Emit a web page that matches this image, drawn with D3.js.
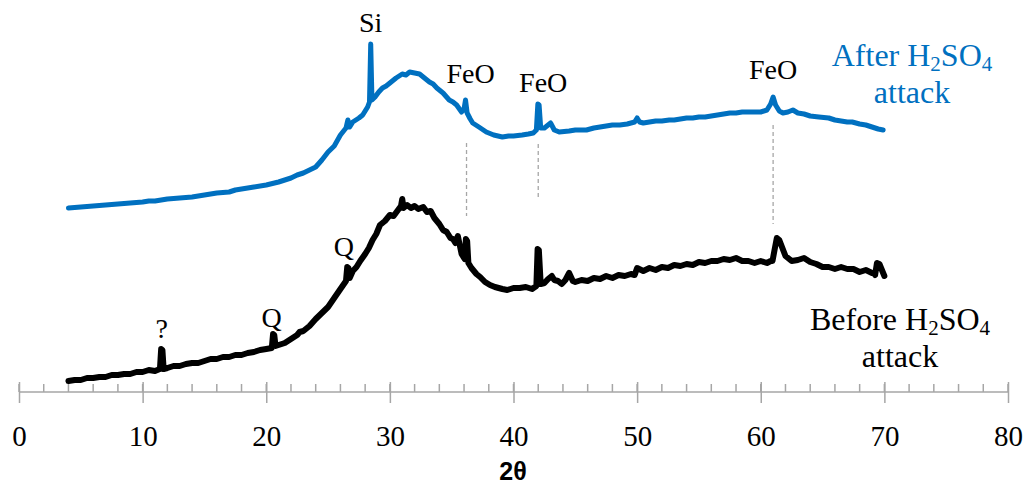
<!DOCTYPE html>
<html><head><meta charset="utf-8">
<script src="https://cdn.jsdelivr.net/npm/d3@7"></script>
<style>body{margin:0;background:#fff}</style>
</head><body>
<svg id="c" width="1027" height="486"></svg>
<script>
// ---- data (2θ in degrees, intensity in arbitrary units) ----
const beforeTheta = [4.0,4.5,5.0,5.5,6.0,6.5,7.0,7.5,8.0,8.5,9.0,9.5,10.0,10.5,11.0,11.4,11.5,11.6,11.7,12.0,12.5,13.0,13.5,14.0,14.5,15.0,15.5,16.0,16.5,17.0,17.5,18.0,18.5,19.0,19.5,20.0,20.45,20.55,20.65,20.75,21.0,21.5,22.0,22.5,22.7,23.0,23.5,24.0,24.5,25.0,25.5,26.0,26.45,26.55,26.65,26.75,27.0,27.3,27.6,28.0,28.3,28.6,28.9,29.2,29.6,30.0,30.3,30.6,30.9,31.0,31.1,31.4,31.7,32.0,32.3,32.7,33.0,33.3,33.6,34.0,34.3,34.6,34.9,35.1,35.3,35.5,35.8,36.05,36.15,36.25,36.35,36.6,37.0,37.3,37.7,38.1,38.5,38.8,39.1,39.5,40.0,40.5,41.0,41.5,41.85,41.95,42.05,42.2,42.5,42.8,43.1,43.3,43.6,43.9,44.2,44.5,44.8,45.0,45.5,46.0,46.5,47.0,47.5,48.0,48.5,49.0,49.5,49.8,50.0,50.5,51.0,51.5,52.0,52.5,53.0,53.5,54.0,54.5,55.0,55.5,56.0,56.5,57.0,57.5,58.0,58.5,59.0,59.5,60.0,60.5,60.8,60.95,61.1,61.3,61.5,62.0,62.5,63.0,63.5,64.0,64.5,65.0,65.5,66.0,66.5,67.0,67.5,68.0,68.5,69.0,69.15,69.25,69.4,69.6,70.0];
const beforeCounts = [11,12,12,14,14,15,15,17,17,18,18,20,20,22,21,23,43,42,23,24,26,26,28,29,29,31,33,33,35,35,37,37,39,40,42,43,44,58,57,46,47,49,53,57,60,61,66,73,79,85,94,103,111,125,124,114,121,125,131,138,144,152,158,167,171,177,176,181,186,193,184,187,184,186,183,185,180,181,174,168,162,160,154,153,149,156,138,133,153,151,129,124,118,115,110,107,105,104,103,102,104,104,105,103,106,143,142,108,109,113,116,112,111,108,112,119,111,110,112,111,114,113,116,114,117,116,118,117,124,121,124,122,125,124,127,126,128,127,130,129,131,131,133,132,134,131,131,129,131,129,131,131,141,154,152,136,131,132,134,130,128,125,125,123,125,123,123,120,122,119,119,117,129,128,116,115,112];
const afterTheta = [4.0,5.0,6.0,7.0,8.0,9.0,10.0,10.5,11.0,12.0,13.0,14.0,15.0,16.0,17.0,17.5,18.0,19.0,20.0,21.0,21.5,22.0,22.5,23.0,23.5,24.0,24.5,25.0,25.5,26.0,26.45,26.6,26.75,27.0,27.5,27.8,28.2,28.35,28.45,28.55,28.8,29.1,29.4,29.7,30.0,30.5,31.0,31.3,31.6,32.0,32.4,32.8,33.2,33.5,33.8,34.3,34.8,35.1,35.4,35.8,36.0,36.12,36.25,36.5,36.7,37.2,37.8,38.4,39.1,39.6,40.0,40.7,41.2,41.6,41.85,41.97,42.07,42.2,42.5,43.0,43.3,43.7,44.5,45.0,45.9,46.5,47.0,47.5,48.0,48.6,49.2,49.8,50.0,50.2,50.5,51.0,51.5,52.0,52.6,53.0,53.5,54.0,54.5,55.0,55.5,56.0,56.5,57.0,57.5,58.0,58.5,59.0,59.5,60.0,60.5,60.8,61.0,61.2,61.5,61.8,62.2,62.6,63.0,63.5,64.0,64.7,65.5,66.0,66.5,67.0,67.4,68.0,68.5,69.0,69.5,69.9];
const afterCounts = [184,185,186,187,188,189,190,191,191,193,194,195,197,199,200,202,203,205,207,210,212,214,217,219,222,225,232,240,246,257,264,272,265,270,274,277,285,290,348,292,295,300,304,306,309,314,318,317,320,319,318,314,310,308,304,299,292,290,287,280,283,292,279,273,269,265,260,257,255,256,256,257,258,259,262,288,287,264,264,269,262,260,261,262,262,264,265,266,267,267,268,270,274,270,269,270,271,271,272,272,273,274,274,275,275,276,277,278,279,279,280,280,280,280,282,288,295,287,281,279,280,282,279,278,276,275,274,272,271,270,270,268,267,265,263,262];
const majorTicks = [0,10,20,30,40,50,60,70,80];
const minorTicks = d3.range(0, 81, 2);
const peakLabels = [
  {text:"Si", at:28.45, series:"after"},
  {text:"FeO", at:36.2, series:"after"},
  {text:"FeO", at:42.0, series:"after"},
  {text:"FeO", at:61.0, series:"after"},
  {text:"?", at:11.55, series:"before"},
  {text:"Q", at:20.6, series:"before"},
  {text:"Q", at:26.6, series:"before"}
];
const dropLines = [36.2, 42.0, 61.0];

// ---- layout ----
const svg = d3.select("#c");
const x = d3.scaleLinear().domain([0,80]).range([19,1008]);
const y = d3.scaleLinear().domain([0,392]).range([392,0]);
const serif = "'Liberation Serif','Times New Roman',serif";

const before = beforeTheta.map((t,i)=>({t, v:beforeCounts[i]}));
const after = afterTheta.map((t,i)=>({t, v:afterCounts[i]}));
const line = d3.line().x(d=>x(d.t)).y(d=>y(d.v));

const peakVal = (arr, t) => arr.reduce((a,b)=>Math.abs(b.t-t)<Math.abs(a.t-t)?b:a);
const dropOff = {36.2:[30,25], 42.0:[40,50], 61.0:[28,37]};
svg.append("g").selectAll("line").data(dropLines).join("line")
  .attr("x1", d=>x(d)).attr("x2", d=>x(d))
  .attr("y1", d=>y(peakVal(after,d).v)+dropOff[d][0])
  .attr("y2", d=>y(peakVal(before,d).v)-dropOff[d][1])
  .attr("stroke","#a6a6a6").attr("stroke-width",1.3).attr("stroke-dasharray","4,3");

// axis
const axisG = svg.append("g").attr("transform","translate(0,392)");
axisG.append("line").attr("x1",x(0)).attr("x2",x(80)).attr("stroke","#a6a6a6").attr("stroke-width",1.5);
axisG.selectAll(".mn").data(minorTicks).join("line").attr("class","mn")
  .attr("x1",d=>x(d)).attr("x2",d=>x(d)).attr("y1",-8).attr("y2",0)
  .attr("stroke","#a6a6a6").attr("stroke-width",1.5);
const ax = d3.axisBottom(x).tickValues(majorTicks).tickSize(11).tickPadding(22).tickFormat(d3.format("d"));
const axg = axisG.append("g").call(ax);
axg.select(".domain").remove();
axg.selectAll(".tick line").attr("y1",-10).attr("stroke","#a6a6a6").attr("stroke-width",1.5);
axg.selectAll(".tick text").attr("font-family",serif).attr("font-size",29).attr("fill","#000");
svg.append("text").attr("x",513).attr("y",480).attr("text-anchor","middle")
  .attr("font-family","'Liberation Sans',Arial,sans-serif").attr("font-weight","bold").attr("font-size",25).text("2θ");

// curves
svg.append("path").datum(before).attr("d",line).attr("fill","none")
  .attr("stroke","#000").attr("stroke-width",6).attr("stroke-linejoin","round").attr("stroke-linecap","round");
svg.append("path").datum(after).attr("d",line).attr("fill","none")
  .attr("stroke","#0070C0").attr("stroke-width",5).attr("stroke-linejoin","round").attr("stroke-linecap","round");

// peak labels
const lblOff = {"Si":[0,12],"FeO36.2":[4,30],"FeO42":[5,12],"FeO61":[0,18],"?":[0,12],"Q20.6":[-2,8],"Q26.6":[-4,12]};
svg.append("g").selectAll("text").data(peakLabels).join("text")
  .attr("x", d=>{const k=d.text==="Si"||d.text==="?"?d.text:d.text+d.at; return x(d.at)+lblOff[k][0];})
  .attr("y", d=>{const k=d.text==="Si"||d.text==="?"?d.text:d.text+d.at; const arr=d.series==="after"?after:before; return y(peakVal(arr,d.at).v)-lblOff[k][1];})
  .attr("text-anchor","middle").attr("font-family",serif).attr("font-size",28).attr("fill","#000")
  .text(d=>d.text);

// series labels (two separate lines)
function seriesLabel(word, cx, by, color){
  const t = svg.append("text").attr("font-family",serif).attr("font-size",32).attr("fill",color)
    .attr("text-anchor","middle").attr("x",cx).attr("y",by);
  t.append("tspan").text(word+" H");
  t.append("tspan").attr("font-size",21).attr("dy",5).text("2");
  t.append("tspan").attr("dy",-5).text("SO");
  t.append("tspan").attr("font-size",21).attr("dy",5).text("4");
  svg.append("text").attr("font-family",serif).attr("font-size",32).attr("fill",color)
    .attr("text-anchor","middle").attr("x",cx).attr("y",by+37).text("attack");
}
seriesLabel("After", 912, 66, "#0070C0");
seriesLabel("Before", 900, 330, "#000");
</script>
</body></html>
